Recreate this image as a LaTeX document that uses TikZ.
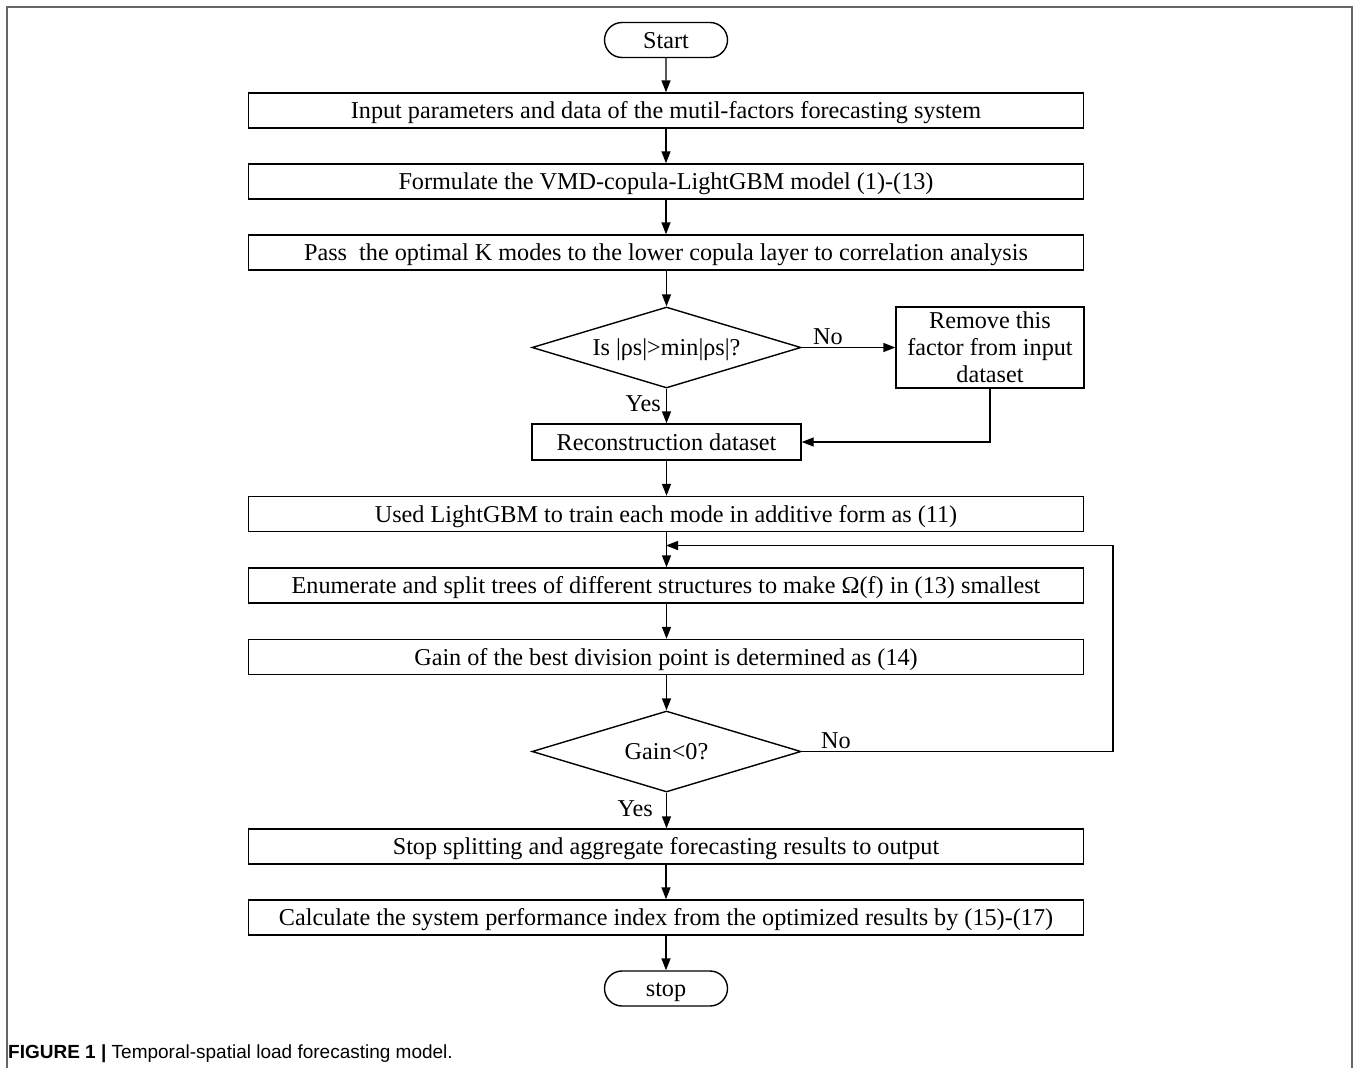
\documentclass[tikz,border=0pt]{standalone}
\usepackage{fontspec}
\setmainfont{Liberation Serif}
\newfontfamily\capfont{Liberation Sans}
\usetikzlibrary{arrows.meta,shapes.geometric,shapes.misc,calc}
\begin{document}
\begin{tikzpicture}[x=1pt,y=-1pt,
  lw/.style={line width=1.4pt},
  every node/.style={font=\fontsize{24.2}{28}\selectfont},
  oneline/.style={text height=16pt,text depth=0pt},
  wide/.style={draw,lw,rectangle,inner sep=0pt,oneline,minimum width=835pt,minimum height=35pt},
  terminal/.style={draw,lw,rounded rectangle,inner sep=0pt,oneline,minimum width=123pt,minimum height=35pt},
  decision/.style={draw,lw,diamond,aspect=3.3,inner sep=0pt,oneline,minimum width=269pt,minimum height=81pt},
  smallbox/.style={draw,lw,rectangle,inner sep=0pt,oneline,minimum width=269pt,minimum height=36pt},
  sidebox/.style={draw,lw,rectangle,inner sep=0pt,minimum width=188pt,minimum height=81pt,align=center,font=\fontsize{24.2}{27}\selectfont},
  flow/.style={lw,-{Triangle[length=12pt,width=9pt]}},
  lbl/.style={inner sep=2pt}
]
\useasboundingbox (0,0) rectangle (1354,1068);
\draw[line width=1.6pt,black!60] (7,1068) -- (7,7) -- (1352,7) -- (1352,1068);

\node[terminal] (start) at (666,40) {Start};
\node[wide] (b1) at (666,110.5) {Input parameters and data of the mutil-factors forecasting system};
\node[wide] (b2) at (666,181.5) {Formulate the VMD-copula-LightGBM model (1)-(13)};
\node[wide] (b3) at (666,252.5) {Pass\ \ the optimal K modes to the lower copula layer to correlation analysis};
\node[decision] (d1) at (666.5,347.5) {Is |ρs|>min|ρs|?};
\node[sidebox] (rm) at (990,347.5) {Remove this\\factor from input\\dataset};
\node[smallbox] (rec) at (666.5,442) {Reconstruction dataset};
\node[wide] (b4) at (666,514) {Used LightGBM to train each mode in additive form as (11)};
\node[wide] (b5) at (666,585.5) {Enumerate and split trees of different structures to make Ω(f) in (13) smallest};
\node[wide] (b6) at (666,657) {Gain of the best division point is determined as (14)};
\node[decision] (d2) at (666.5,751.5) {Gain<0?};
\node[wide] (b7) at (666,846.5) {Stop splitting and aggregate forecasting results to output};
\node[wide] (b8) at (666,917.5) {Calculate the system performance index from the optimized results by (15)-(17)};
\node[terminal] (stop) at (666,988.5) {stop};

\coordinate (join) at (666,545.5);

\draw[flow] (start) -- (b1);
\draw[flow] (b1) -- (b2);
\draw[flow] (b2) -- (b3);
\draw[flow] (b3.south -| d1.north) -- (d1.north);
\draw[flow] (d1.east) -- node[pos=0.28,above,lbl]{No} (rm.west);
\draw[flow] (d1.south) -- node[pos=0.42,left,inner sep=5pt]{Yes} (rec.north);
\draw[flow] (rm.south) |- (rec.east);
\draw[flow] (rec.south) -- (rec.south |- b4.north);
\draw[flow] (b4.south -| rec.south) -- (rec.south |- b5.north);
\draw[flow] (b5.south -| rec.south) -- (rec.south |- b6.north);
\draw[flow] (b6.south -| rec.south) -- (d2.north);
\draw[flow] (d2.south) -- node[pos=0.45,left,inner sep=13pt]{Yes} (d2.south |- b7.north);
\draw[flow] (b7.south -| start.south) -- (start.south |- b8.north);
\draw[flow] (b8.south -| start.south) -- (stop.north);
\draw[flow] (d2.east) -- node[pos=0.11,above,lbl]{No} (1113,751.5) |- (join);

\node[anchor=base west,inner sep=0pt,font=\capfont\fontsize{19}{22}\selectfont] (cap) at (8,1058) {\textbf{FIGURE 1 |} Temporal-spatial load forecasting model.};
\end{tikzpicture}
\end{document}
